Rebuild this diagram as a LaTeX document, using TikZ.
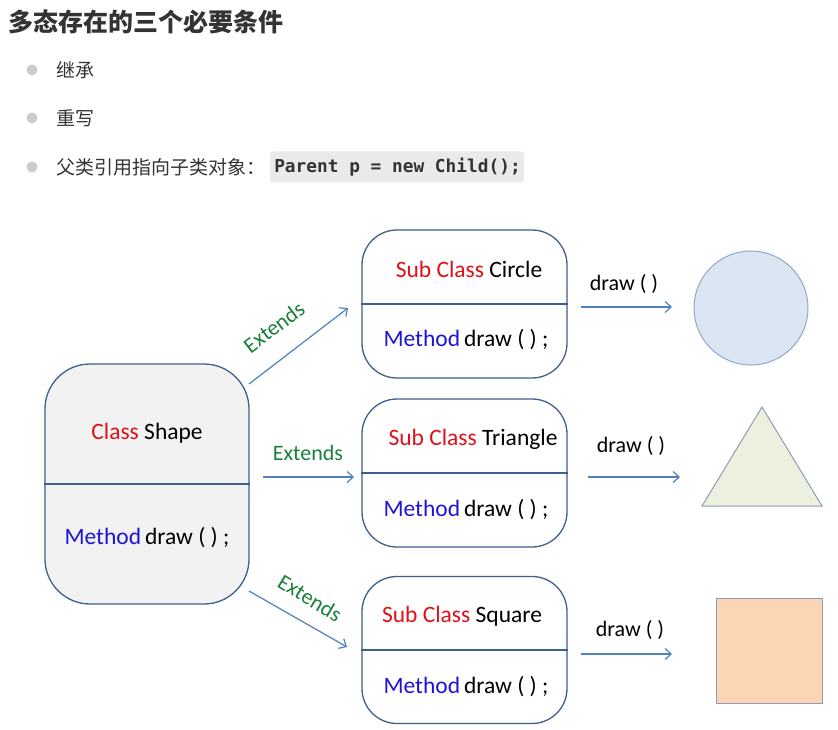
\documentclass[tikz,border=0pt]{standalone}
\usepackage{fontspec}
\setmainfont{Carlito}
\newfontfamily\cjk{Noto Sans CJK SC}
\newfontfamily\codefont{DejaVu Sans Mono}
\usetikzlibrary{arrows.meta}
\definecolor{txt}{HTML}{333333}
\definecolor{bulletc}{HTML}{CCCCCC}
\definecolor{codebg}{HTML}{EBEAE8}
\definecolor{boxline}{HTML}{3F5F8C}
\definecolor{arrc}{HTML}{4F81BD}
\definecolor{kred}{HTML}{E0101A}
\definecolor{kblue}{HTML}{1E14D8}
\definecolor{kgreen}{HTML}{17813A}
\definecolor{circfill}{HTML}{DCE6F2}
\definecolor{circline}{HTML}{8FA7C9}
\definecolor{trifill}{HTML}{EBF1DE}
\definecolor{sqfill}{HTML}{FCD5B4}
\definecolor{shapeline}{HTML}{8C9DB5}
\tikzset{
  bulletdot/.style={circle,fill=bulletc,inner sep=0pt,minimum size=11pt},
  itemtext/.style={anchor=west,inner sep=0pt,text=txt,font=\cjk\fontsize{19}{21}\selectfont},
  classbox/.style={draw=boxline,line width=1.3pt,rounded corners=#1,inner sep=0pt},
  lbl/.style={font=\fontsize{23.5}{25}\selectfont,inner sep=0pt},
  extlbl/.style={font=\fontsize{22}{24}\selectfont,text=kgreen,inner sep=0pt},
  drawlbl/.style={font=\fontsize{22}{24}\selectfont,text=black,inner sep=0pt},
  arr/.style={draw=arrc,line width=1.2pt,-{Straight Barb[length=6pt,width=11pt,line width=1.2pt]}},
  geom/.style={draw=shapeline,line width=1pt}
}
\begin{document}
\begin{tikzpicture}[x=1pt,y=-1pt]
\useasboundingbox (0,0) rectangle (838,730);
% header
\node[anchor=west,inner sep=0pt,text=txt,font=\cjk\bfseries\fontsize{25}{27}\selectfont] (title) at (8,22) {多态存在的三个必要条件};
\node[bulletdot] (b1) at (32,70) {};
\node[bulletdot] (b2) at (32,118) {};
\node[bulletdot] (b3) at (32,167) {};
\node[itemtext] (t1) at (56,70) {继承};
\node[itemtext] (t2) at (56,118) {重写};
\node[itemtext] (t3) at (56,167) {父类引用指向子类对象：};
\node[fill=codebg,rounded corners=3pt,minimum width=254pt,minimum height=31pt,inner sep=0pt] (codebg) at (397,167) {};
\node[text=txt,font=\codefont\bfseries\fontsize{17.8}{19}\selectfont,inner sep=0pt] (code) at (397.5,167) {Parent p = new Child();};
% class boxes
\node[classbox=45pt,fill=black!5,minimum width=204pt,minimum height=240pt] (shape) at (147,484) {};
\draw[boxline,line width=1.3pt] (shape.west) -- (shape.east);
\node[lbl] (shapet) at (147,433) {\textcolor{kred}{Class} Shape};
\node[lbl] (shapem) at (147,538) {\textcolor{kblue}{Method}\,draw ( ) ;};

\node[classbox=35pt,fill=white,minimum width=205pt,minimum height=148pt] (cbox) at (464.5,304) {};
\draw[boxline,line width=1.3pt] (cbox.west) -- (cbox.east);
\node[lbl] (ct) at (469,269) {\textcolor{kred}{Sub Class} Circle};
\node[lbl] (cm) at (466,340) {\textcolor{kblue}{Method}\,draw ( ) ;};

\node[classbox=35pt,fill=white,minimum width=205pt,minimum height=148pt] (tbox) at (464.5,473) {};
\draw[boxline,line width=1.3pt] (tbox.west) -- (tbox.east);
\node[lbl] (tt) at (473,439) {\textcolor{kred}{Sub Class} Triangle};
\node[lbl] (tm) at (466,510) {\textcolor{kblue}{Method}\,draw ( ) ;};

\node[classbox=35pt,fill=white,minimum width=205pt,minimum height=147pt] (sbox) at (464.5,650) {};
\draw[boxline,line width=1.3pt] (sbox.west) -- (sbox.east);
\node[lbl] (st) at (462,616) {\textcolor{kred}{Sub Class} Square};
\node[lbl] (sm) at (466,687) {\textcolor{kblue}{Method}\,draw ( ) ;};
% extends arrows
\coordinate (e1s) at (249,384); \coordinate (e1e) at (348,308);
\coordinate (e2s) at (263,477); \coordinate (e2e) at (354,477);
\coordinate (e3s) at (249,591); \coordinate (e3e) at (347,647);
\draw[arr] (e1s) -- (e1e);
\draw[arr] (e2s) -- (e2e);
\draw[arr] (e3s) -- (e3e);
\node[extlbl,rotate=37] (x1) at (274,327) {Extends};
\node[extlbl] (x2) at (308,453) {Extends};
\node[extlbl,rotate=-31] (x3) at (310,598) {Extends};
% shapes
\node[geom,circle,fill=circfill,draw=circline,minimum size=114pt,inner sep=0pt] (circ) at (751,308) {};
\coordinate (ta) at (762,407); \coordinate (tb) at (702,506); \coordinate (tc) at (822,506);
\draw[geom,fill=trifill,line join=miter] (ta) -- (tc) -- (tb) -- cycle;
\node[geom,rectangle,fill=sqfill,minimum width=106pt,minimum height=105pt,inner sep=0pt] (sq) at (769,650.5) {};
% draw arrows
\coordinate (d1s) at (581,307); \coordinate (d1e) at (672,307);
\coordinate (d2s) at (588,477); \coordinate (d2e) at (680,477);
\coordinate (d3s) at (581,654); \coordinate (d3e) at (672,654);
\draw[arr] (d1s) -- (d1e);
\draw[arr] (d2s) -- (d2e);
\draw[arr] (d3s) -- (d3e);
\node[drawlbl] (y1) at (624,284) {draw ( )};
\node[drawlbl] (y2) at (631,446) {draw ( )};
\node[drawlbl] (y3) at (630,630) {draw ( )};
\end{tikzpicture}
\end{document}
